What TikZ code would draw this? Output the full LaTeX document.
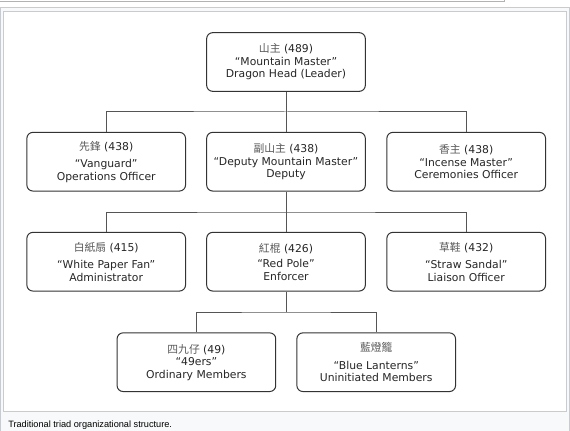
\documentclass[tikz,border=0pt]{standalone}
\usepackage{fontspec}
\setmainfont{DejaVu Sans}
\newfontfamily\cjk{Noto Sans CJK TC}
\newfontfamily\capfont{Liberation Sans}
\usepackage[svgnames]{xcolor}
\usepackage{tikz}
\usetikzlibrary{
    calc,
    positioning
}
\definecolor{thumbborder}{HTML}{C8CCD1}
\definecolor{thumbbg}{HTML}{F8F9FA}
\definecolor{boxline}{HTML}{333333}
\definecolor{linkline}{HTML}{555555}
\newcommand{\hanzi}[1]{{\cjk\color{black!65}#1}}
\tikzset{
    rank/.style={
        draw=boxline, line width=0.75pt, rounded corners=4.5pt, fill=white,
        minimum width=119pt, minimum height=44pt, inner sep=0pt,
        align=center, text=black!85,
        font=\fontsize{8.1}{9.4}\selectfont
    },
    link/.style={draw=linkline, line width=0.75pt},
}

\begin{document}
\begin{tikzpicture}[x=0.75pt,y=-0.75pt]
    \useasboundingbox (0,0) rectangle (570,431);
    % frame of the figure
    \draw[gray!60] (0,1) -- (504.5,1) -- (504.5,0);
    \draw[thumbborder, fill=thumbbg] (0.5,7.5) rectangle (569.5,431);
    \draw[thumbborder, fill=white] (3.5,11.5) rectangle (566.5,411.5);
    \node[anchor=base west, inner sep=0pt, font=\capfont\fontsize{6.9}{8}\selectfont] (caption)
        at (8,427) {Traditional triad organizational structure.};

    \coordinate (j1) at (286,112);
    \coordinate (j2) at (286,212);
    \coordinate (j3) at (286,312);

    \node[rank] (head) at (286,62)      {\hanzi{山主} (489)\\“Mountain Master”\\Dragon Head (Leader)};
    \node[rank] (van)  at (106.2,161.7) {\hanzi{先鋒} (438)\\[3.5pt]“Vanguard”\\Operations Officer};
    \node[rank] (dep)  at (286,161.7)   {\hanzi{副山主} (438)\\“Deputy Mountain Master”\\Deputy};
    \node[rank] (inc)  at (466.2,161.7) {\hanzi{香主} (438)\\“Incense Master”\\Ceremonies Officer};
    \node[rank] (wpf)  at (106.2,261.7) {\hanzi{白紙扇} (415)\\[3.5pt]“White Paper Fan”\\Administrator};
    \node[rank] (red)  at (286,261.7)   {\hanzi{紅棍} (426)\\[2pt]“Red Pole”\\Enforcer};
    \node[rank] (ss)   at (466.2,261.7) {\hanzi{草鞋} (432)\\[3.5pt]“Straw Sandal”\\Liaison Officer};
    \node[rank] (f49)  at (196.4,362.2) {\hanzi{四九仔} (49)\\“49ers”\\Ordinary Members};
    \node[rank] (blue) at (376.2,362.2) {\hanzi{藍燈籠}\\[3.5pt]“Blue Lanterns”\\Uninitiated Members};

    \draw[link] (head.south) -- (dep.north);
    \draw[link] (van.north) |- (j1) -| (inc.north);
    \draw[link] (dep.south) -- (red.north);
    \draw[link] (wpf.north) |- (j2) -| (ss.north);
    \draw[link] (red.south) -- (j3);
    \draw[link] (f49.north) |- (j3) -| (blue.north);
\end{tikzpicture}
\end{document}
